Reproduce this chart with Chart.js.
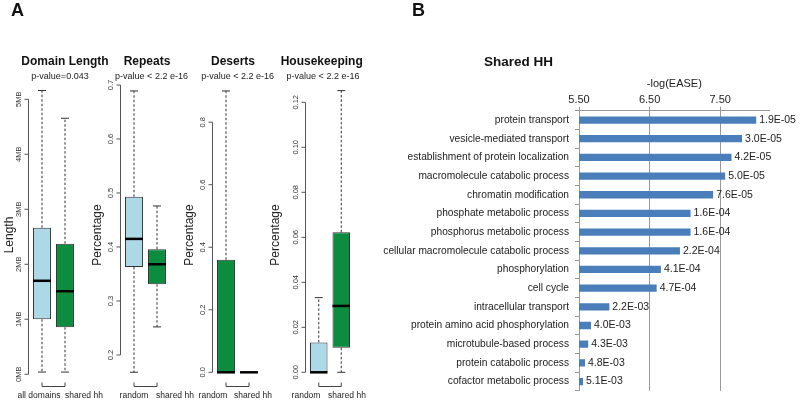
<!DOCTYPE html>
<html>
<head>
<meta charset="utf-8">
<script src="https://cdn.jsdelivr.net/npm/chart.js@4.4.0/dist/chart.umd.min.js"></script>
<style>
    body { margin: 0; background: #fff; }
    #wrap { position: relative; width: 800px; height: 403px; }
    #wrap canvas { position: absolute; left: 0; top: 0; }
</style>
</head>
<body>
<div id="wrap">
    <canvas id="lengthChart" width="800" height="403"></canvas>
    <canvas id="repeatsChart" width="800" height="403"></canvas>
    <canvas id="desertsChart" width="800" height="403"></canvas>
    <canvas id="hkChart" width="800" height="403"></canvas>
    <canvas id="goChart" width="800" height="403"></canvas>
</div>
<script>
// ---- Panel A : boxplots (min, q1, median, q3, max) ----
const lengthGroups = ['all domains', 'shared hh'];
const lengthMin = [0.04, 0.04];
const lengthQ1 = [1.0, 0.855];
const lengthMed = [1.70, 1.51];
const lengthQ3 = [2.665, 2.375];
const lengthMax = [5.16, 4.655];
const lengthTicks = [0, 1, 2, 3, 4, 5];
const lengthTickLabels = ['0MB', '1MB', '2MB', '3MB', '4MB', '5MB'];

const repeatsGroups = ['random', 'shared hh'];
const repeatsMin = [0.168, 0.252];
const repeatsQ1 = [0.363, 0.331];
const repeatsMed = [0.415, 0.368];
const repeatsQ3 = [0.493, 0.396];
const repeatsMax = [0.689, 0.476];
const repeatsTicks = [0.2, 0.3, 0.4, 0.5, 0.6, 0.7];
const repeatsTickLabels = ['0.2', '0.3', '0.4', '0.5', '0.6', '0.7'];

const desertsGroups = ['random', 'shared hh'];
const desertsMin = [0, 0];
const desertsQ1 = [0, 0];
const desertsMed = [0, 0];
const desertsQ3 = [0.36, 0];
const desertsMax = [0.90, 0];
const desertsTicks = [0, 0.2, 0.4, 0.6, 0.8];
const desertsTickLabels = ['0.0', '0.2', '0.4', '0.6', '0.8'];

const hkGroups = ['random', 'shared hh'];
const hkMin = [0, 0];
const hkQ1 = [0, 0.0109];
const hkMed = [0, 0.0295];
const hkQ3 = [0.0133, 0.0622];
const hkMax = [0.0332, 0.1252];
const hkTicks = [0, 0.02, 0.04, 0.06, 0.08, 0.10, 0.12];
const hkTickLabels = ['0.00', '0.02', '0.04', '0.06', '0.08', '0.10', '0.12'];

// ---- Panel B : GO terms ----
const goTerms = [
    'protein transport',
    'vesicle-mediated transport',
    'establishment of protein localization',
    'macromolecule catabolic process',
    'chromatin modification',
    'phosphate metabolic process',
    'phosphorus metabolic process',
    'cellular macromolecule catabolic process',
    'phosphorylation',
    'cell cycle',
    'intracellular transport',
    'protein amino acid phosphorylation',
    'microtubule-based process',
    'protein catabolic process',
    'cofactor metabolic process'
];
const goScores = [8.01, 7.81, 7.66, 7.57, 7.40, 7.08, 7.08, 6.93, 6.66, 6.60, 5.93, 5.67, 5.63, 5.585, 5.557];
const easeLabels = ['1.9E-05', '3.0E-05', '4.2E-05', '5.0E-05', '7.6E-05', '1.6E-04', '1.6E-04', '2.2E-04',
    '4.1E-04', '4.7E-04', '2.2E-03', '4.0E-03', '4.3E-03', '4.8E-03', '5.1E-03'];
const easeTicks = [5.5, 6.5, 7.5];

const LIGHT = '#add8e6';
const GREEN = '#0b8c3f';
const FONT = 'Arial, "Liberation Sans", sans-serif';

Chart.defaults.font.family = FONT;

const boxDeco = {
    id: 'boxDeco',
    afterDatasetsDraw(chart, args, o) {
        const ctx = chart.ctx;
        const y = chart.scales.y;
        const bars = chart.getDatasetMeta(0).data;
        const s = o.stats;
        ctx.save();
        ctx.strokeStyle = '#333';
        ctx.lineWidth = 1;
        bars.forEach((bar, i) => {
            const yq1 = y.getPixelForValue(s.q1[i]);
            const yq3 = y.getPixelForValue(s.q3[i]);
            const ymin = y.getPixelForValue(s.min[i]);
            const ymax = y.getPixelForValue(s.max[i]);
            ctx.setLineDash([2.5, 2]);
            ctx.beginPath();
            if (s.max[i] > s.q3[i]) { ctx.moveTo(bar.x, yq3); ctx.lineTo(bar.x, ymax); }
            if (s.min[i] < s.q1[i]) { ctx.moveTo(bar.x, yq1); ctx.lineTo(bar.x, ymin); }
            ctx.stroke();
            ctx.setLineDash([]);
            ctx.beginPath();
            if (s.max[i] > s.q3[i]) { ctx.moveTo(bar.x - 4, ymax); ctx.lineTo(bar.x + 4, ymax); }
            if (s.min[i] < s.q1[i]) { ctx.moveTo(bar.x - 4, ymin); ctx.lineTo(bar.x + 4, ymin); }
            ctx.stroke();
            // median
            ctx.save();
            ctx.strokeStyle = '#000';
            ctx.lineWidth = 2.5;
            const ym = y.getPixelForValue(s.med[i]);
            ctx.beginPath();
            ctx.moveTo(bar.x - bar.width / 2, ym);
            ctx.lineTo(bar.x + bar.width / 2, ym);
            ctx.stroke();
            ctx.restore();
        });

        // R style y axis
        const ax = chart.chartArea.left - 2;
        ctx.strokeStyle = '#555';
        ctx.beginPath();
        ctx.moveTo(ax, y.getPixelForValue(o.ticks[0]));
        ctx.lineTo(ax, y.getPixelForValue(o.ticks[o.ticks.length - 1]));
        o.ticks.forEach(t => {
            ctx.moveTo(ax - 4, y.getPixelForValue(t));
            ctx.lineTo(ax, y.getPixelForValue(t));
        });
        ctx.stroke();
        ctx.fillStyle = '#333';
        ctx.font = '7.5px ' + FONT;
        ctx.textAlign = 'center';
        ctx.textBaseline = 'middle';
        o.ticks.forEach((t, i) => {
            ctx.save();
            ctx.translate(ax - 10, y.getPixelForValue(t));
            ctx.rotate(-Math.PI / 2);
            ctx.fillText(o.tickLabels[i], 0, 0);
            ctx.restore();
        });
        // axis title
        ctx.fillStyle = '#222';
        ctx.font = '12px ' + FONT;
        ctx.save();
        ctx.translate(o.yTitleX, 235);
        ctx.rotate(-Math.PI / 2);
        ctx.fillText(o.yTitle, 0, 0);
        ctx.restore();
        // titles
        ctx.fillStyle = '#111';
        ctx.font = 'bold 12px ' + FONT;
        ctx.fillText(o.title, o.titleX, 62);
        ctx.font = '9px ' + FONT;
        ctx.fillStyle = '#222';
        ctx.fillText(o.sub, o.subX, 77);
        // bracket + group labels
        ctx.strokeStyle = '#444';
        ctx.beginPath();
        ctx.moveTo(bars[0].x, 382.5);
        ctx.lineTo(bars[0].x, 386.5);
        ctx.lineTo(bars[1].x, 386.5);
        ctx.lineTo(bars[1].x, 382.5);
        ctx.stroke();
        ctx.font = '8.5px ' + FONT;
        chart.data.labels.forEach((lab, i) => ctx.fillText(lab, o.labelX[i], 395.5));
        if (o.letter) {
            ctx.font = 'bold 18px ' + FONT;
            ctx.fillStyle = '#111';
            ctx.textAlign = 'left';
            ctx.fillText(o.letter, 11, 11.5);
        }
        ctx.restore();
    }
};

function boxChart(id, groups, stats, colors, yMin, yMax, area, deco) {
    deco.stats = stats;
    return new Chart(document.getElementById(id), {
        type: 'bar',
        data: {
            labels: groups,
            datasets: [{
                data: stats.q1.map((v, i) => [v, stats.q3[i]]),
                backgroundColor: colors,
                borderColor: '#333',
                borderWidth: 1,
                borderSkipped: false,
                categoryPercentage: 1,
                barPercentage: 0.78
            }]
        },
        options: {
            responsive: false,
            animation: false,
            devicePixelRatio: 1,
            layout: { padding: { left: area[0], right: 800 - area[1], top: 85, bottom: 18 } },
            plugins: { legend: { display: false }, tooltip: { enabled: false }, boxDeco: deco },
            scales: {
                x: { display: false },
                y: { display: false, min: yMin, max: yMax }
            }
        },
        plugins: [boxDeco]
    });
}

boxChart('lengthChart', lengthGroups,
    { min: lengthMin, q1: lengthQ1, med: lengthMed, q3: lengthQ3, max: lengthMax },
    [LIGHT, GREEN], -0.195, 5.26, [30.5, 76.5],
    { ticks: lengthTicks, tickLabels: lengthTickLabels, yTitle: 'Length', yTitleX: 10,
      title: 'Domain Length', titleX: 65, sub: 'p-value=0.043', subX: 60, labelX: [39, 84], letter: 'A' });

boxChart('repeatsChart', repeatsGroups,
    { min: repeatsMin, q1: repeatsQ1, med: repeatsMed, q3: repeatsQ3, max: repeatsMax },
    [LIGHT, GREEN], 0.1444, 0.7, [122.5, 168.5],
    { ticks: repeatsTicks, tickLabels: repeatsTickLabels, yTitle: 'Percentage', yTitleX: 98,
      title: 'Repeats', titleX: 147, sub: 'p-value < 2.2 e-16', subX: 151.5, labelX: [134, 175] });

boxChart('desertsChart', desertsGroups,
    { min: desertsMin, q1: desertsQ1, med: desertsMed, q3: desertsQ3, max: desertsMax },
    [GREEN, GREEN], -0.0406, 0.919, [214.5, 260.5],
    { ticks: desertsTicks, tickLabels: desertsTickLabels, yTitle: 'Percentage', yTitleX: 190,
      title: 'Deserts', titleX: 233, sub: 'p-value < 2.2 e-16', subX: 237.7, labelX: [213, 253] });

boxChart('hkChart', hkGroups,
    { min: hkMin, q1: hkQ1, med: hkMed, q3: hkQ3, max: hkMax },
    [LIGHT, GREEN], -0.00564, 0.1277, [307.5, 352.5],
    { ticks: hkTicks, tickLabels: hkTickLabels, yTitle: 'Percentage', yTitleX: 276,
      title: 'Housekeeping', titleX: 321.7, sub: 'p-value < 2.2 e-16', subX: 323, labelX: [306, 347] });

// ---- Panel B ----
const goDeco = {
    id: 'goDeco',
    afterDatasetsDraw(chart) {
        const ctx = chart.ctx;
        ctx.save();
        ctx.fillStyle = '#222';
        ctx.font = '10.5px ' + FONT;
        ctx.textAlign = 'left';
        ctx.textBaseline = 'middle';
        chart.getDatasetMeta(0).data.forEach((bar, i) => {
            ctx.fillText(easeLabels[i], bar.x + 3, bar.y);
        });
        ctx.fillStyle = '#111';
        ctx.font = 'bold 13.5px ' + FONT;
        ctx.fillText('Shared HH', 484, 62);
        ctx.font = 'bold 18px ' + FONT;
        ctx.fillText('B', 412, 11);
        ctx.restore();
    }
};

new Chart(document.getElementById('goChart'), {
    type: 'bar',
    data: {
        labels: goTerms,
        datasets: [{
            data: goScores,
            backgroundColor: '#4a7ebb',
            categoryPercentage: 1,
            barPercentage: 0.39
        }]
    },
    options: {
        indexAxis: 'y',
        responsive: false,
        animation: false,
        devicePixelRatio: 1,
        layout: { padding: { left: 0, right: 30.4, top: 70.7, bottom: 10.3 } },
        plugins: { legend: { display: false }, tooltip: { enabled: false } },
        scales: {
            x: {
                position: 'top',
                min: 5.5,
                max: 8.2,
                afterBuildTicks: s => { s.ticks = easeTicks.map(v => ({ value: v })); },
                afterFit: s => { s.height = 40; },
                ticks: { callback: v => Number(v).toFixed(2), font: { size: 11 }, color: '#222', padding: 0 },
                grid: { color: '#999', tickLength: 4 },
                border: { color: '#999' },
                title: { display: true, text: '-log(EASE)', font: { size: 11 }, color: '#222', padding: { top: 6.5, bottom: 0 } }
            },
            y: {
                afterFit: s => { s.width = 579; },
                ticks: { font: { size: 10.2 }, color: '#222', padding: 6, autoSkip: false },
                grid: { drawOnChartArea: false, tickLength: 4, color: '#999' },
                border: { color: '#999' }
            }
        }
    },
    plugins: [goDeco]
});
</script>
</body>
</html>
